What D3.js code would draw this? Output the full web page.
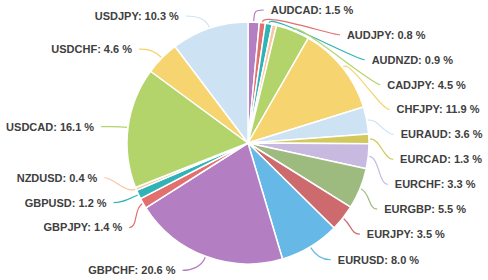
<!DOCTYPE html>
<html>
<head>
<meta charset="utf-8">
<script src="https://cdn.jsdelivr.net/npm/d3@7"></script>
<style>
  html, body { margin: 0; padding: 0; background: #ffffff; }
  svg { display: block; }
  text { font-family: "Liberation Sans", Arial, sans-serif; font-weight: bold; font-size: 11px; fill: #404040; }
</style>
</head>
<body>
<svg id="chart" width="488" height="280"></svg>
<script>
// ---- data ----
const categories = ["AUDCAD", "AUDJPY", "AUDNZD", "", "CADJPY", "CHFJPY", "EURAUD", "EURCAD", "EURCHF",
                    "EURGBP", "EURJPY", "EURUSD", "GBPCHF", "GBPJPY", "GBPUSD", "NZDUSD", "USDCAD", "USDCHF", "USDJPY"];
const shares = [1.5, 0.8, 0.9, 0.6, 4.5, 11.9, 3.6, 1.3, 3.3, 5.5, 3.5, 8.0, 20.6, 1.4, 1.2, 0.4, 16.1, 4.6, 10.3];
const palette = ["#b37fc2", "#e2706f", "#2fb3b6", "#f6c7a1", "#b3d46b", "#f6d470", "#cde2f3",
                 "#d2c85b", "#c7b9e0", "#9dbb7f", "#cc6a6e", "#66b8e6"];

(function () {
// ---- layout ----
const cx = 248, cy = 143, r = 121;
const svg = d3.select("#chart");

const data = categories.map((c, i) => ({ cat: c, value: shares[i], color: palette[i % palette.length] }));
const pie = d3.pie().value(d => d.value).sort(null);
const arcs = pie(data);
const arcGen = d3.arc().innerRadius(0).outerRadius(r);

const g = svg.append("g").attr("transform", `translate(${cx},${cy})`);
g.selectAll("path.slice").data(arcs).join("path")
  .attr("class", "slice")
  .attr("d", arcGen)
  .attr("fill", d => d.data.color)
  .attr("stroke", "#ffffff")
  .attr("stroke-width", 1.5)
  .attr("stroke-linejoin", "round");

// ---- label placement (Excel-like best-fit with outside labels) ----
const lcy = 144, bY = 135, bX = 143, aR = 153, aL = 155, gap = 24.9, yMin = 10, yMax = 271;
const labels = arcs.filter(a => a.data.cat !== "").map(a => {
  const mid = (a.startAngle + a.endAngle) / 2;
  return {
    arc: a, mid,
    side: mid < Math.PI ? "right" : "left",
    ideal: lcy - bY * Math.cos(mid),
    text: `${a.data.cat}: ${a.data.value.toFixed(1)} %`
  };
});

function resolve(list) {
  list.sort((a, b) => a.ideal - b.ideal);
  let blocks = list.map(l => ({ items: [l] }));
  const place = b => {
    const n = b.items.length;
    const mean = d3.mean(b.items, l => l.ideal);
    let start = mean - (n - 1) * gap / 2;
    start = Math.max(yMin, Math.min(start, yMax - (n - 1) * gap));
    b.start = start; b.end = start + (n - 1) * gap;
  };
  blocks.forEach(place);
  let merged = true;
  while (merged) {
    merged = false;
    for (let i = 0; i < blocks.length - 1; i++) {
      if (blocks[i].end + gap > blocks[i + 1].start) {
        blocks[i].items = blocks[i].items.concat(blocks[i + 1].items);
        blocks.splice(i + 1, 1);
        place(blocks[i]);
        merged = true;
        break;
      }
    }
  }
  blocks.forEach(b => b.items.forEach((l, k) => { l.y = b.start + k * gap; }));
}
resolve(labels.filter(l => l.side === "right"));
resolve(labels.filter(l => l.side === "left"));

labels.forEach(l => {
  const dy = l.y - lcy;
  const f = Math.sqrt(Math.max(0, 1 - (dy / bX) * (dy / bX)));
  const px = cx + r * Math.sin(l.mid);
  const nearTop = Math.min(l.mid, 2 * Math.PI - l.mid) < 5 * Math.PI / 180;
  if (nearTop) {
    l.x = px + 17; l.anchor = "start";
  } else if (l.side === "right") {
    l.x = cx + aR * f; l.anchor = "start";
  } else {
    l.x = cx - aL * f; l.anchor = "end";
  }
  // leader line geometry
  const sx = cx + (r + 1) * Math.sin(l.mid), sy = cy - (r + 1) * Math.cos(l.mid);
  const c1x = cx + (r + 11) * Math.sin(l.mid), c1y = cy - (r + 11) * Math.cos(l.mid);
  const ex = l.anchor === "start" ? l.x - 7 : l.x + 7;
  const ey = l.y;
  const c2x = l.anchor === "start" ? ex - 9 : ex + 9;
  l.path = `M${sx},${sy}C${c1x},${c1y} ${c2x},${ey} ${ex},${ey}`;
});

svg.append("g").selectAll("path").data(labels).join("path")
  .attr("d", l => l.path)
  .attr("fill", "none")
  .attr("stroke", l => l.arc.data.color)
  .attr("stroke-width", 1.2);

svg.append("g").selectAll("text").data(labels).join("text")
  .attr("x", l => l.x)
  .attr("y", l => l.y)
  .attr("dy", "0.35em")
  .attr("text-anchor", l => l.anchor)
  .text(l => l.text);
})();
</script>
</body>
</html>
